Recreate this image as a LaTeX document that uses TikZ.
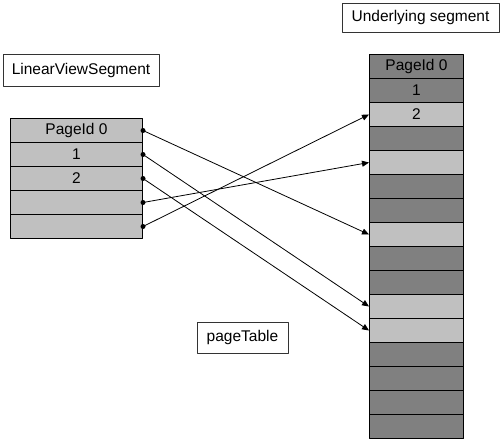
\documentclass[tikz,border=0pt]{standalone}
\usepackage{fontspec}
\setmainfont{Liberation Sans}
\usetikzlibrary{arrows.meta}
\definecolor{lightcell}{HTML}{C0C0C0}
\definecolor{darkcell}{HTML}{808080}
\begin{document}
\begin{tikzpicture}[x=1pt, y=-1pt, line join=round,
    every node/.style={font=\fontsize{15.5}{18}\selectfont},
    labelbox/.style={draw=black!80, line width=1pt, fill=white, inner sep=0pt},
    cell/.style={draw, line width=1pt, inner sep=0pt, minimum height=24pt, anchor=north west},
    link/.style={line width=0.8pt, -{Triangle[length=7pt, width=6pt]}}]
      \useasboundingbox (0,0) rectangle (500,439);

      % captions
      \node[labelbox, minimum width=156pt, minimum height=32pt] (lvs) at (81,70) {LinearViewSegment};
      \node[labelbox, minimum width=157pt, minimum height=29pt] (under) at (420.5,17.5) {Underlying segment};
      \node[labelbox, minimum width=91pt, minimum height=31pt] (table) at (242.5,337.5) {pageTable};

      % linear view
      \foreach \i/\txt in {0/PageId 0, 1/1, 2/2, 3/, 4/}
      \node[cell, fill=lightcell, minimum width=132pt] (l\i) at (10,118+24*\i) {\txt};

      % underlying pages
      \foreach \i/\c/\txt in {0/darkcell/PageId 0, 1/darkcell/1, 2/lightcell/2, 3/darkcell/,
          4/lightcell/, 5/darkcell/, 6/darkcell/, 7/lightcell/, 8/darkcell/, 9/darkcell/,
          10/lightcell/, 11/lightcell/, 12/darkcell/, 13/darkcell/, 14/darkcell/, 15/darkcell/}
      \node[cell, fill=\c, minimum width=94pt] (r\i) at (369,54+24*\i) {\txt};

      % mapping
      \foreach \a/\b in {0/7, 1/10, 2/11, 3/4, 4/2} {
      \draw[link] (l\a.east) -- (r\b.west);
      \fill (l\a.east) circle (2.5pt);
      }
    \end{tikzpicture}
\end{document}
